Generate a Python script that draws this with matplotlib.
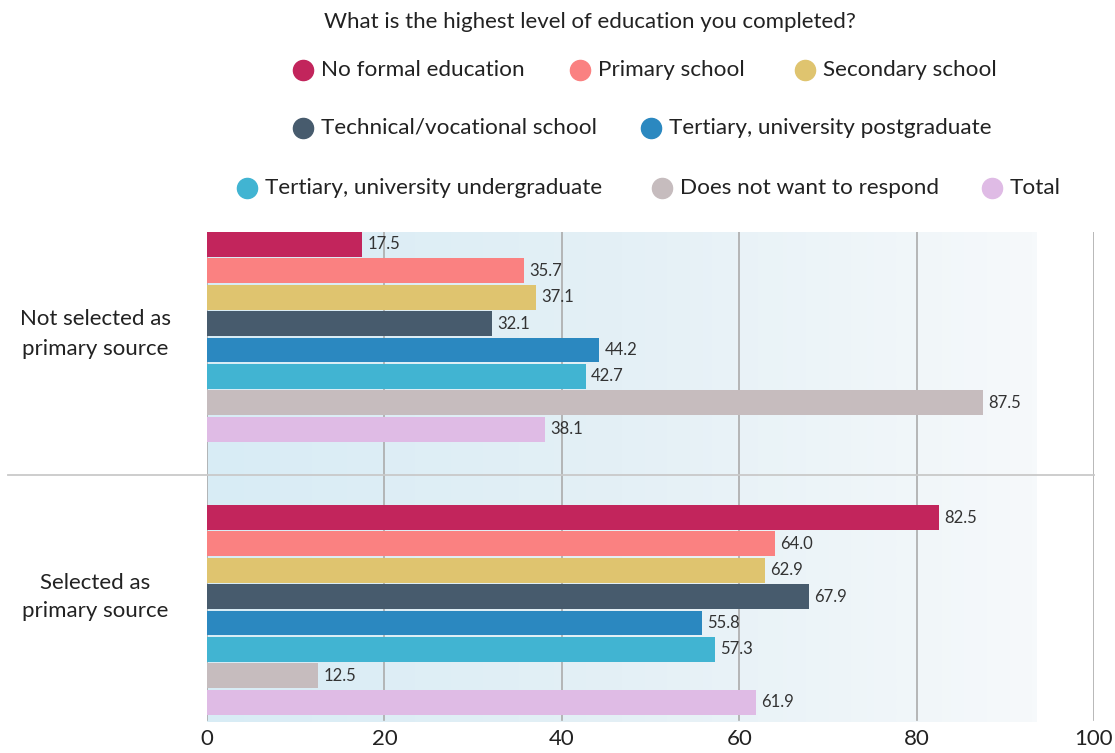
import numpy as np
import matplotlib
matplotlib.use("Agg")
import matplotlib.pyplot as plt
from matplotlib.lines import Line2D
from matplotlib.colors import LinearSegmentedColormap

plt.rcParams['font.family'] = ['Lato', 'DejaVu Sans']

# survey answers, percent of respondents per education level
levels = ["No formal education", "Primary school", "Secondary school",
          "Technical/vocational school", "Tertiary, university postgraduate",
          "Tertiary, university undergraduate", "Does not want to respond", "Total"]
colors = ["#c2255c", "#fa8181", "#dfc46f", "#475b6d",
          "#2b88c0", "#41b4d2", "#c6bcbe", "#dfbbe5"]
groups = ["Not selected as\nprimary source", "Selected as\nprimary source"]
not_selected = [17.5, 35.7, 37.1, 32.1, 44.2, 42.7, 87.5, 38.1]
selected = [82.5, 64.0, 62.9, 67.9, 55.8, 57.3, 12.5, 61.9]
xticks = [0, 20, 40, 60, 80, 100]
title = "What is the highest level of education you completed?"

W, H = 1115, 753
fig = plt.figure(figsize=(W / 100, H / 100), dpi=100)
fig.patch.set_facecolor("white")


def fx(px):
    return px / W


def fy(py):
    return 1 - py / H


ax = fig.add_axes([fx(207), fy(722), fx(1094) - fx(207), fy(232) - fy(722)])

n = len(levels)
group_gap = 10.35
y_top = -0.47
y_bot = group_gap + n - 1 + 0.55

# pale blue wash fading to white towards the right
cmap = LinearSegmentedColormap.from_list("wash", ["#d8ecf5", "#e4f0f6", "#f6f9fb"])
grad = np.linspace(0, 1, 256).reshape(1, -1)
ax.imshow(grad, cmap=cmap, extent=[0, 93.5, y_bot + 0.2, y_top - 0.1],
          aspect="auto", zorder=0, interpolation="bilinear")

for i, (vals, base) in enumerate([(not_selected, 0), (selected, group_gap)]):
    ys = np.arange(n) + base
    ax.barh(ys, vals, height=0.94, color=colors, zorder=3)
    for y, v in zip(ys, vals):
        ax.text(v + 0.6, y, f"{v:.1f}", va="center", ha="left",
                fontsize=12, color="#333333", zorder=4)

for t in xticks:
    ax.axvline(t, ymin=0.005, ymax=1, color="#ababab", lw=1.2, zorder=1)

ax.set_xlim(0, 100)
ax.set_ylim(y_bot + 0.2, y_top)
ax.set_xticks(xticks)
ax.set_xticklabels([str(t) for t in xticks], fontsize=16, color="#222222")
ax.tick_params(axis="x", length=0, pad=5)
ax.set_yticks([])
for s in ax.spines.values():
    s.set_visible(False)

# separator between the two groups
fig.add_artist(Line2D([fx(8), fx(1094)], [fy(475), fy(475)], color="#c9c9c9", lw=1.3))

fig.text(fx(95), fy(334), groups[0], ha="center", va="center",
         fontsize=16, color="#222222", linespacing=1.6)
fig.text(fx(95), fy(597), groups[1], ha="center", va="center",
         fontsize=16, color="#222222", linespacing=1.55)

# legend laid out in three centred rows
fig.text(fx(590), fy(22), title, ha="center", va="center", fontsize=16, color="#222222")
legend_pos = [(303, 70), (580, 70), (805, 70),
              (303, 128), (651, 128),
              (247, 188), (662, 188), (992, 188)]
for (px, py), lab, c in zip(legend_pos, levels, colors):
    fig.add_artist(Line2D([fx(px)], [fy(py)], marker="o", markersize=14.5,
                          color=c, lw=0))
    fig.text(fx(px + 18), fy(py), lab, ha="left", va="center",
             fontsize=16.2, color="#222222")

fig.savefig("out.png", dpi=100)
